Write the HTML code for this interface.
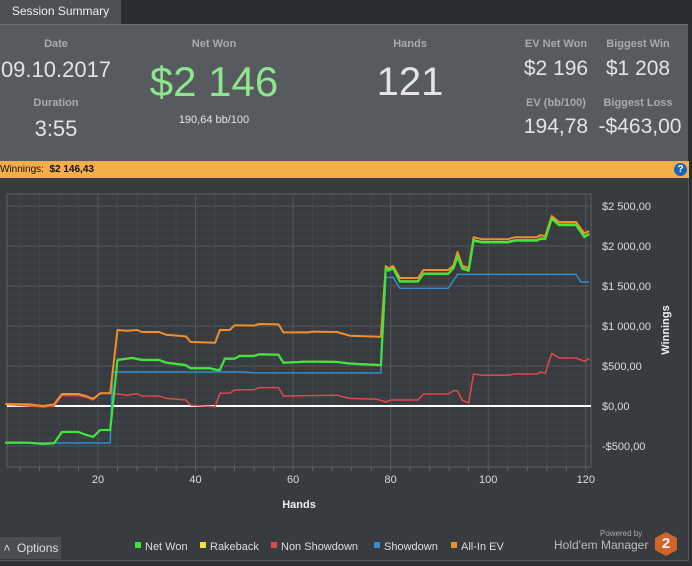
<!DOCTYPE html>
<html><head><meta charset="utf-8"><style>
body{margin:0;width:692px;height:566px;overflow:hidden;background:#2b2e32;font-family:"Liberation Sans","DejaVu Sans",sans-serif;position:relative}
.abs{position:absolute}
.lbl{color:#a9abae;font-size:11px;text-align:center;font-weight:bold}
.val{color:#e4e4e4;text-align:center}
</style></head><body>
<div class="abs" style="left:0;top:0;width:692px;height:24px;background:#2a2d31"></div>
<div class="abs" style="left:0;top:0;width:121px;height:24px;background:#4d5054;color:#eee;font-size:12px;line-height:22px;text-align:center">Session Summary</div>
<div class="abs" style="left:0;top:24px;width:688px;height:137px;background:#575a5e;border-top:1px solid #6a6d70"></div>
<div class="abs lbl" style="left:16px;top:38px;width:80px">Date</div>
<div class="abs val" style="left:0;top:57px;width:112px;font-size:22px">09.10.2017</div>
<div class="abs lbl" style="left:16px;top:97px;width:80px">Duration</div>
<div class="abs val" style="left:16px;top:116px;width:80px;font-size:22px">3:55</div>
<div class="abs lbl" style="left:164px;top:38px;width:100px">Net Won</div>
<div class="abs" style="left:134px;top:58px;width:160px;font-size:42px;color:#8ee68e;text-align:center">$2 146</div>
<div class="abs val" style="left:164px;top:114px;width:100px;font-size:11px">190,64 bb/100</div>
<div class="abs lbl" style="left:370px;top:38px;width:80px">Hands</div>
<div class="abs val" style="left:350px;top:60px;width:120px;font-size:40px">121</div>
<div class="abs lbl" style="left:516px;top:38px;width:80px">EV Net Won</div>
<div class="abs val" style="left:510px;top:57px;width:92px;font-size:21px">$2 196</div>
<div class="abs lbl" style="left:598px;top:38px;width:80px">Biggest Win</div>
<div class="abs val" style="left:592px;top:57px;width:92px;font-size:21px">$1 208</div>
<div class="abs lbl" style="left:516px;top:97px;width:80px">EV (bb/100)</div>
<div class="abs val" style="left:515px;top:115px;width:82px;font-size:21px">194,78</div>
<div class="abs lbl" style="left:598px;top:97px;width:80px">Biggest Loss</div>
<div class="abs val" style="left:592px;top:115px;width:96px;font-size:21px">-$463,00</div>
<div class="abs" style="left:0;top:161px;width:689px;height:17px;background:#f3ae48;font-size:10px;line-height:17px;color:#111">Winnings: &nbsp;<b>$2 146,43</b></div>
<div class="abs" style="left:674px;top:163px;width:13px;height:13px;border-radius:50%;background:#1c64b8;color:#fff;font-size:10px;font-weight:bold;text-align:center;line-height:13px">?</div>
<div class="abs" style="left:0;top:178px;width:688px;height:382px;background:#383b3f;border-right:1px solid #55585b;border-bottom:1px solid #55585b"></div>
<svg class="abs" id="chart" style="left:0;top:0" width="692" height="566"></svg>
<div class="abs" style="left:0;top:537px;width:61px;height:22px;background:#4a4d51;color:#ddd;font-size:12px;line-height:22px">&nbsp;˄ &nbsp;Options</div>
<div class="abs" style="left:600px;top:529px;font-size:8px;color:#aaa">Powered by</div>
<div class="abs" style="left:554px;top:538px;font-size:12px;color:#bbb">Hold'em Manager</div>
<div class="abs" style="left:655px;top:532px;width:22px;height:24px;background:#d2632a;clip-path:polygon(50% 0,100% 25%,100% 75%,50% 100%,0 75%,0 25%);color:#fff;font-weight:bold;font-size:15px;text-align:center;line-height:24px">2</div>
<script>
const ticksX=[20,40,60,80,100,120];
const ticksY=[-500,0,500,1000,1500,2000,2500];
const tickYLabels=["-$500,00","$0,00","$500,00","$1 000,00","$1 500,00","$2 000,00","$2 500,00"];
const netHands=[1,6,8.7,11,12.6,16,17.5,19,20.5,22.5,24,27,29,32.5,34,38,39,43,44.3,45,46,48,49,52,53,57,58,63,69,71.6,77.7,78,79,79.5,80.5,81.9,85.6,86.7,91.8,92.9,93.7,94.7,96,97,98.7,104,105.5,110,110.6,111.7,113,114.5,118,119.7,120.7];
const netWon=[-458,-460,-475,-465,-325,-325,-360,-385,-300,-300,575,600,575,575,540,510,470,470,450,450,590,590,625,625,645,640,540,555,550,530,510,510,1725,1690,1720,1555,1555,1650,1650,1725,1866,1715,1690,2066,2045,2045,2066,2066,2087,2087,2340,2260,2260,2113,2146];
const rakeback=[-455,-457,-472,-462,-322,-322,-357,-382,-297,-297,580,605,580,580,545,515,475,475,455,455,595,595,630,630,650,645,545,560,555,535,515,515,1732,1697,1727,1562,1562,1658,1658,1733,1875,1723,1698,2075,2054,2054,2075,2075,2096,2096,2350,2270,2270,2122,2155];
const evHands=[1,6,8.7,11,12.6,16,17.5,19,20.5,22.5,24,26,28,29,32.5,34,38,39,44,45,47,48,52,53,57,58,63,64,69,71.6,77.7,78,79,79.5,80.5,81.9,85.6,86.7,91.8,92.9,93.7,94.7,96,97,98.7,104,105.5,110,110.6,111.7,113,114.5,118,119.7,120.7];
const allInEV=[25,20,0,20,150,150,125,90,160,160,950,940,950,925,925,890,870,800,790,950,950,1010,1005,1025,1020,920,920,930,925,879,866,866,1750,1720,1750,1600,1600,1700,1700,1760,1925,1750,1725,2110,2085,2085,2110,2110,2135,2125,2375,2300,2300,2160,2185];
const sdHands=[1,22.5,23,49,52,78,79,80.5,81.9,91.8,93.7,118,119,120.7];
const showdown=[-462,-462,425,425,415,414,1608,1608,1470,1470,1645,1645,1550,1550];
const nsHands=[1,8.7,11,12.6,16,17.5,19,20.5,22.5,24,26,28,29,32.5,34,38,39,44,45,47,48,52,53,57,58,63,69,71.6,77,78,79,80,85.6,86.7,91.8,92.9,93.7,94.7,96,97,98.7,104,105.5,110,110.6,111.7,113,114.5,118,119.7,120.7];
const nonShowdown=[20,-12,0,130,130,110,75,160,160,150,135,155,125,125,95,75,10,-10,160,160,200,205,230,230,125,130,135,95,85,70,50,75,75,150,150,190,190,70,40,400,385,385,400,400,425,410,658,600,600,560,590];
const seriesNames=["Net Won","Rakeback","Non Showdown","Showdown","All-In EV"];
const seriesColors=["#3de63a","#f0e43a","#e24848","#2f8fd0","#f0902a"];

const L=7,R=591,T=194,B=467;
const X=h=>98+(h-20)*4.878;
const Y=v=>406-v*0.08;
const svg=document.getElementById('chart');
const NS='http://www.w3.org/2000/svg';
function mk(t,a,parent){const e=document.createElementNS(NS,t);for(const k in a)e.setAttribute(k,a[k]);(parent||svg).appendChild(e);return e;}
for(let v=-700;v<=2700;v+=100){const y=Y(v);if(y<T||y>B)continue;
 const g=mk('line',{x1:L,x2:R,y1:y,y2:y,stroke:v%500===0?'#55585c':'#414448','stroke-width':1});
 
 }
for(let h=0;h<=124;h+=4){const x=X(h);if(x<L||x>R)continue;
 const g=mk('line',{x1:x,x2:x,y1:T,y2:B,stroke:h%20===0?'#55585c':'#45484c','stroke-width':1});
 
 
 const tk=mk('line',{x1:x,x2:x,y1:B,y2:B+4,stroke:'#666'});
 
 }
const fr=mk('rect',{x:L,y:T,width:R-L,height:B-T,fill:'none',stroke:'#5c5f63'});


ticksX.forEach(h=>{const t=mk('text',{x:X(h),y:483,fill:'#ddd','font-size':11,'text-anchor':'middle','font-family':'Liberation Sans, sans-serif'});t.textContent=h;
 
 });
ticksY.forEach((v,i)=>{const t=mk('text',{x:602,y:Y(v)+4,fill:'#ddd','font-size':11,'font-family':'Liberation Sans, sans-serif'});t.textContent=tickYLabels[i];
 
 });
const xt=mk('text',{x:299,y:508,fill:'#eee','font-size':11,'font-weight':'bold','text-anchor':'middle','font-family':'Liberation Sans, sans-serif'});xt.textContent='Hands';


const yt=mk('text',{x:669,y:330,fill:'#eee','font-size':11,'font-weight':'bold','text-anchor':'middle','transform':'rotate(-90 669 330)','font-family':'Liberation Sans, sans-serif'});yt.textContent='Winnings';


const z=mk('line',{x1:L,x2:R,y1:Y(0),y2:Y(0),stroke:'#fff','stroke-width':2});


function series(hs,vs,color,w,name){const p=mk('polyline',{points:hs.map((h,i)=>X(h).toFixed(1)+','+Y(vs[i]).toFixed(1)).join(' '),fill:'none',stroke:color,'stroke-width':w,'stroke-linejoin':'round'});
 
 }
series(nsHands,nonShowdown,seriesColors[2],1.5,'non-showdown-line');
series(sdHands,showdown,seriesColors[3],1.5,'showdown-line');
series(evHands,allInEV,seriesColors[4],2,'all-in-ev-line');
series(netHands,rakeback,seriesColors[1],1.5,'rakeback-line');
series(netHands,netWon,seriesColors[0],2.2,'net-won-line');
const legX=[135,200,271,374,451];
seriesNames.forEach((n,i)=>{const r=mk('rect',{x:legX[i],y:542,width:6,height:6,fill:seriesColors[i]});
 
 
 const t=mk('text',{x:legX[i]+10,y:550,fill:'#ddd','font-size':11,'font-family':'Liberation Sans, sans-serif'});t.textContent=n;
 
 });
</script>
</body></html>
